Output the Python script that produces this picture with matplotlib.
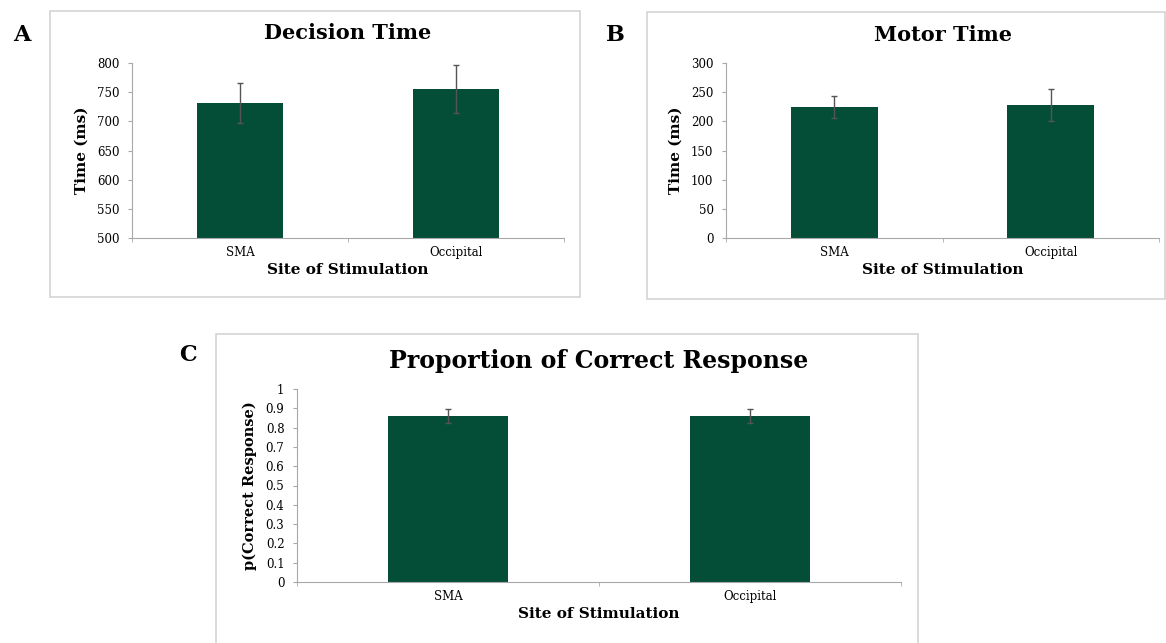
import matplotlib.pyplot as plt
from matplotlib.patches import Rectangle

# data
sites = ["SMA", "Occipital"]
decision_mean = [731, 756]
decision_err = [34, 41]
motor_mean = [225, 228]
motor_err = [19, 27]
correct_mean = [0.86, 0.86]
correct_err = [0.036, 0.036]

W, H = 1166, 643
GREEN = "#044e37"
GRID = "#a8a8a8"

plt.rcParams["font.family"] = "DejaVu Serif"

fig = plt.figure(figsize=(W / 100, H / 100), dpi=100)


def px_axes(left, right, top, bottom):
    return fig.add_axes([left / W, 1 - bottom / H, (right - left) / W, (bottom - top) / H])


def box(left, right, top, bottom):
    fig.patches.append(Rectangle((left / W, 1 - bottom / H), (right - left) / W, (bottom - top) / H,
                                 transform=fig.transFigure, fill=False,
                                 edgecolor="#d4d4d4", linewidth=1.2))


def bar_panel(ax, means, errs, ylim, ticks, ylabel, title, title_size, ylabel_size, title_pad):
    x = range(len(sites))
    ax.bar(x, [m - ylim[0] for m in means], bottom=ylim[0], width=0.4, color=GREEN)
    ax.errorbar(x, means, yerr=errs, fmt="none", ecolor="#555555", elinewidth=1, capsize=2.5)
    ax.set_xlim(-0.5, 1.5)
    ax.set_ylim(*ylim)
    ax.set_yticks(ticks)
    ax.set_yticklabels([("%g" % t) for t in ticks], fontsize=8.5)
    ax.set_xticks([0, 1])
    ax.set_xticklabels(sites, fontsize=8.5)
    ax.set_xticks([-0.5, 0.5, 1.5], minor=True)
    ax.tick_params(axis="x", which="major", length=0, pad=6)
    ax.tick_params(axis="x", which="minor", length=3, color=GRID)
    ax.tick_params(axis="y", length=3, color=GRID, pad=6)
    for s in ["top", "right"]:
        ax.spines[s].set_visible(False)
    for s in ["left", "bottom"]:
        ax.spines[s].set_color(GRID)
    ax.set_ylabel(ylabel, fontsize=ylabel_size, fontweight="bold", labelpad=6)
    ax.set_xlabel("Site of Stimulation", fontsize=11, fontweight="bold", labelpad=3)
    ax.set_title(title, fontsize=title_size, fontweight="bold", pad=title_pad)


# panel A
box(50, 580, 11, 297)
axA = px_axes(132, 564, 63, 238)
bar_panel(axA, decision_mean, decision_err, (500, 800), list(range(500, 801, 50)),
          "Time (ms)", "Decision Time", 15, 11, 17)
fig.text(22 / W, 1 - 35 / H, "A", fontsize=16, fontweight="bold", ha="center", va="center")

# panel B
box(647, 1165, 12, 299)
axB = px_axes(726, 1159, 63, 238)
bar_panel(axB, motor_mean, motor_err, (0, 300), list(range(0, 301, 50)),
          "Time (ms)", "Motor Time", 15, 11, 16)
fig.text(615 / W, 1 - 35 / H, "B", fontsize=16, fontweight="bold", ha="center", va="center")

# panel C
box(216, 918, 334, 660)
axC = px_axes(297, 901, 389, 582)
bar_panel(axC, correct_mean, correct_err, (0, 1), [i / 10 for i in range(11)],
          "p(Correct Response)", "Proportion of Correct Response", 17, 10.5, 15)
fig.text(188 / W, 1 - 355 / H, "C", fontsize=16, fontweight="bold", ha="center", va="center")

fig.savefig("out.png", dpi=100)
